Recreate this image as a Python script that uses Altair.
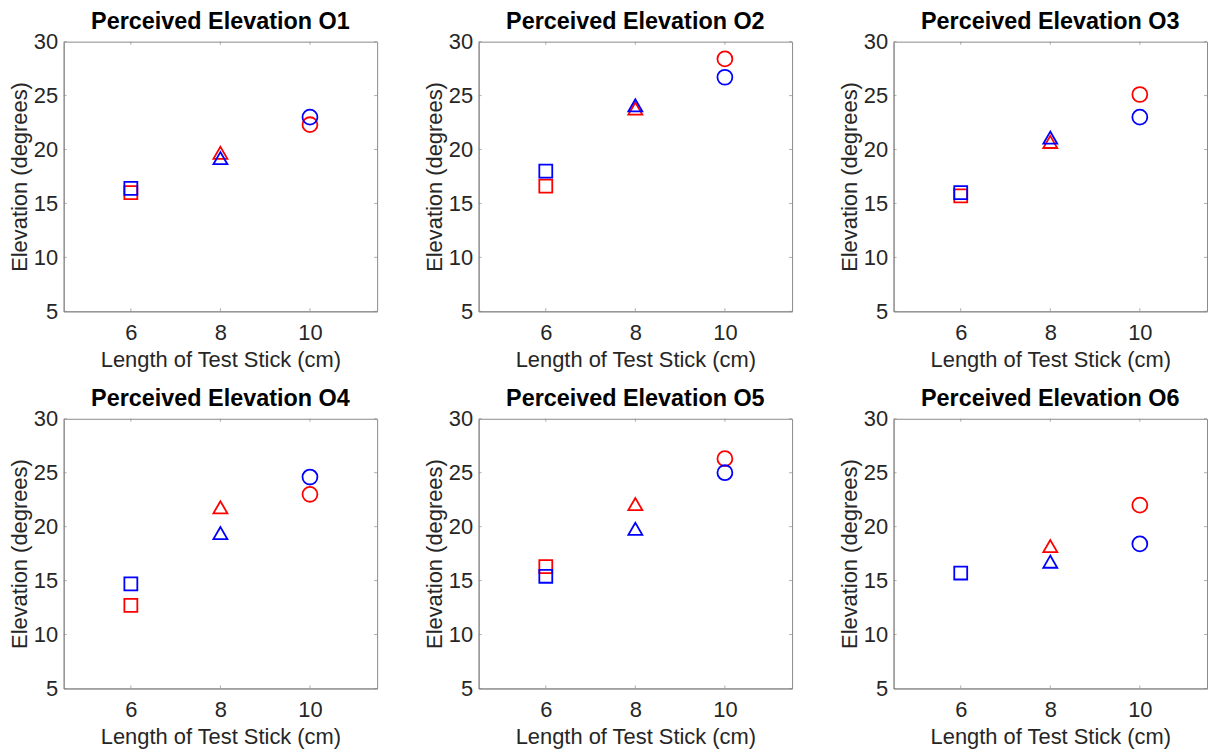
import altair as alt
import pandas as pd

# ---- data ----
panels = ["O1", "O2", "O3", "O4", "O5", "O6"]
lengths = [6, 8, 10]
shapes_by_length = ["square", "triangle-up", "circle"]
red_vals = {
    "O1": [16.0, 19.7, 22.3],
    "O2": [16.6, 23.8, 28.4],
    "O3": [15.7, 20.7, 25.1],
    "O4": [12.7, 21.8, 23.0],
    "O5": [16.3, 22.1, 26.3],
    "O6": [None, 18.2, 22.0],
}
blue_vals = {
    "O1": [16.4, 19.2, 23.0],
    "O2": [18.0, 24.1, 26.7],
    "O3": [16.0, 21.1, 23.0],
    "O4": [14.7, 19.4, 24.6],
    "O5": [15.4, 19.8, 25.0],
    "O6": [15.7, 16.75, 18.4],
}
x_ticks = [6, 8, 10]
y_ticks = [5, 10, 15, 20, 25, 30]

rows = []
for p in panels:
    for series, vals in (("red", red_vals[p]), ("blue", blue_vals[p])):
        for L, v in zip(lengths, vals):
            if v is not None:
                rows.append({"panel": p, "series": series, "x": L, "y": v,
                             "order": 0 if series == "red" else 1})
df = pd.DataFrame(rows)
xt = pd.DataFrame({"x": x_ticks})
yt = pd.DataFrame({"y": y_ticks})

W, H = 315, 271
FONT = "Liberation Sans"
AX = "#8a8a8a"
TXT = "#262626"

xscale = alt.Scale(domain=[4.5, 11.5], nice=False, zero=False)
yscale = alt.Scale(domain=[5, 30], nice=False, zero=False)
xaxis = alt.Axis(values=x_ticks, title="Length of Test Stick (cm)", grid=False,
                 ticks=False, labelFontSize=22, titleFontSize=22, labelFont=FONT,
                 titleFont=FONT, labelColor=TXT, titleColor=TXT, titleFontWeight="normal",
                 domainColor=AX, labelPadding=11, titlePadding=6)
yaxis = alt.Axis(values=y_ticks, title="Elevation (degrees)", grid=False,
                 ticks=False, labelFontSize=22, titleFontSize=22, labelFont=FONT,
                 titleFont=FONT, labelColor=TXT, titleColor=TXT, titleFontWeight="normal",
                 domainColor=AX, labelPadding=6, titlePadding=2)


def panel(p):
    xenc = alt.X("x:Q", scale=xscale, axis=xaxis)
    yenc = alt.Y("y:Q", scale=yscale, axis=yaxis)
    pts = alt.Chart(df).transform_filter(alt.datum.panel == p).mark_point(
        filled=False, strokeWidth=1.8, opacity=1
    ).encode(
        x=xenc, y=yenc,
        color=alt.Color("series:N", scale=alt.Scale(domain=["red", "blue"],
                                                    range=["#ff0000", "#0000ff"]), legend=None),
        shape=alt.Shape("x:N", scale=alt.Scale(domain=lengths, range=shapes_by_length), legend=None),
        size=alt.Size("x:N", scale=alt.Scale(domain=lengths, range=[169, 225, 196]), legend=None),
        order=alt.Order("order:Q"),
    )
    tx_top = alt.Chart(xt).mark_tick(orient="vertical", size=3, thickness=1, color=AX).encode(
        x=xenc, y=alt.value(1.5))
    tx_bot = alt.Chart(xt).mark_tick(orient="vertical", size=3, thickness=1, color=AX).encode(
        x=xenc, y=alt.value(H - 1.5))
    ty_l = alt.Chart(yt).mark_tick(orient="horizontal", size=3, thickness=1, color=AX).encode(
        y=yenc, x=alt.value(1.5))
    ty_r = alt.Chart(yt).mark_tick(orient="horizontal", size=3, thickness=1, color=AX).encode(
        y=yenc, x=alt.value(W - 1.5))
    return alt.layer(tx_top, tx_bot, ty_l, ty_r, pts).properties(
        width=W, height=H,
        title=alt.TitleParams(f"Perceived Elevation {p}", fontSize=23.5, fontWeight="bold",
                              font=FONT, color="#000000", offset=-3, anchor="middle"),
    )


chart = alt.concat(*[panel(p) for p in panels], columns=3, bounds="flush",
                   spacing={"row": 108, "column": 102}).properties(
    padding={"left": 8, "top": 8, "right": 0, "bottom": 0},
    background="white",
).configure_view(stroke=AX, strokeWidth=1)

chart.save("out.html", embed_options={"renderer": "svg", "actions": False})
